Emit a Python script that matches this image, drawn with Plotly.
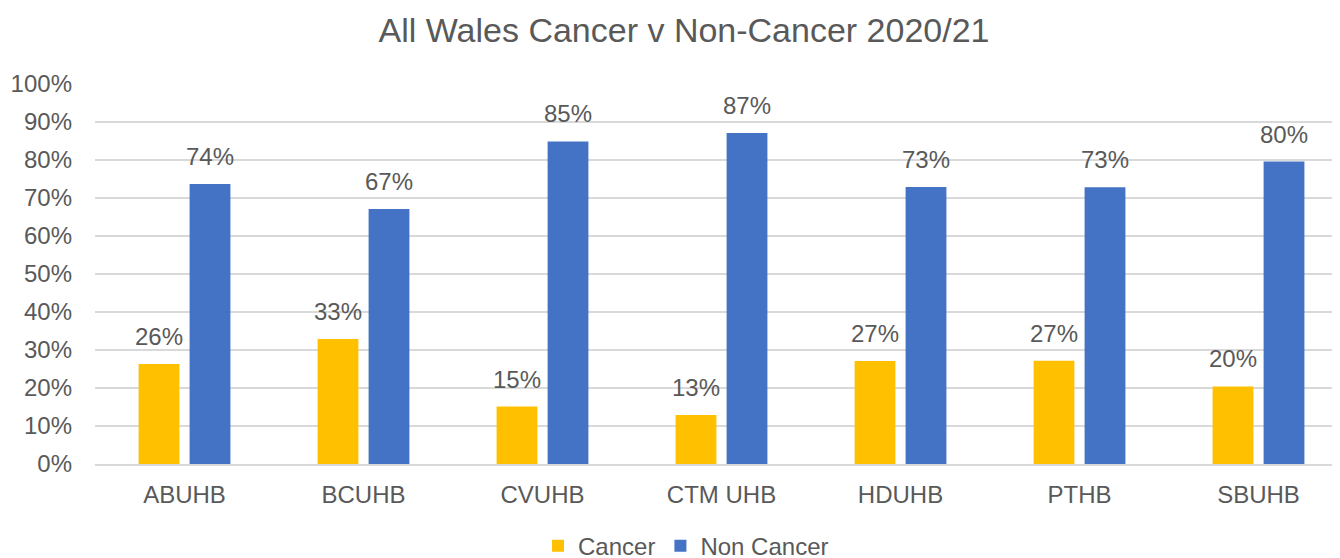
import plotly.graph_objects as go

boards = ["ABUHB", "BCUHB", "CVUHB", "CTM UHB", "HDUHB", "PTHB", "SBUHB"]
cancer = [0.263, 0.329, 0.151, 0.129, 0.271, 0.272, 0.204]
non_cancer = [0.737, 0.671, 0.849, 0.871, 0.729, 0.728, 0.796]

series_names = ["Cancer", "Non Cancer"]
series_colors = ["#FFC000", "#4472C4"]

FONT = "Liberation Sans, Arial, sans-serif"
GREY = "#595959"

fig = go.Figure()
for name, vals, col in zip(series_names, [cancer, non_cancer], series_colors):
    fig.add_trace(go.Bar(x=boards, y=vals, name=name, marker_color=col,
                         marker_line_width=0))

# value labels above each bar
for vals, shift in [(cancer, -25.5), (non_cancer, 25.5)]:
    for b, v in zip(boards, vals):
        fig.add_annotation(x=b, y=v, text=f"{v:.0%}", showarrow=False,
                           xshift=shift, yshift=12, yanchor="bottom",
                           font=dict(size=24, color=GREY, family=FONT))

fig.update_layout(
    width=1340, height=558,
    margin=dict(l=87, r=0, t=76, b=102, autoexpand=False),
    paper_bgcolor="white", plot_bgcolor="white",
    barmode="group", bargap=0.43, bargroupgap=0.2,
    font=dict(family=FONT, size=24, color=GREY),
    title=dict(text="All Wales Cancer v Non-Cancer 2020/21", x=0.5045, xanchor="center",
               y=1 - 22 / 558, yanchor="middle", yref="container",
               font=dict(size=34, color=GREY, family=FONT)),
    legend=dict(orientation="h", x=0.4717, xanchor="center", y=-0.216, yanchor="middle",
                font=dict(size=24, color=GREY), itemwidth=30, traceorder="normal"),
    showlegend=True,
)
fig.update_yaxes(range=[0, 1], dtick=0.1, tickformat=".0%", gridcolor="#D9D9D9",
                 gridwidth=1.5, zeroline=False, showline=False, ticklabelstandoff=22,
                 automargin=False, tickfont=dict(size=24, color=GREY))
fig.update_xaxes(range=[-0.5, 6.5], showline=True, linecolor="#D9D9D9", linewidth=1.5,
                 ticklabelstandoff=8, automargin=False,
                 tickfont=dict(size=24, color=GREY))

fig.write_html("out.html")
